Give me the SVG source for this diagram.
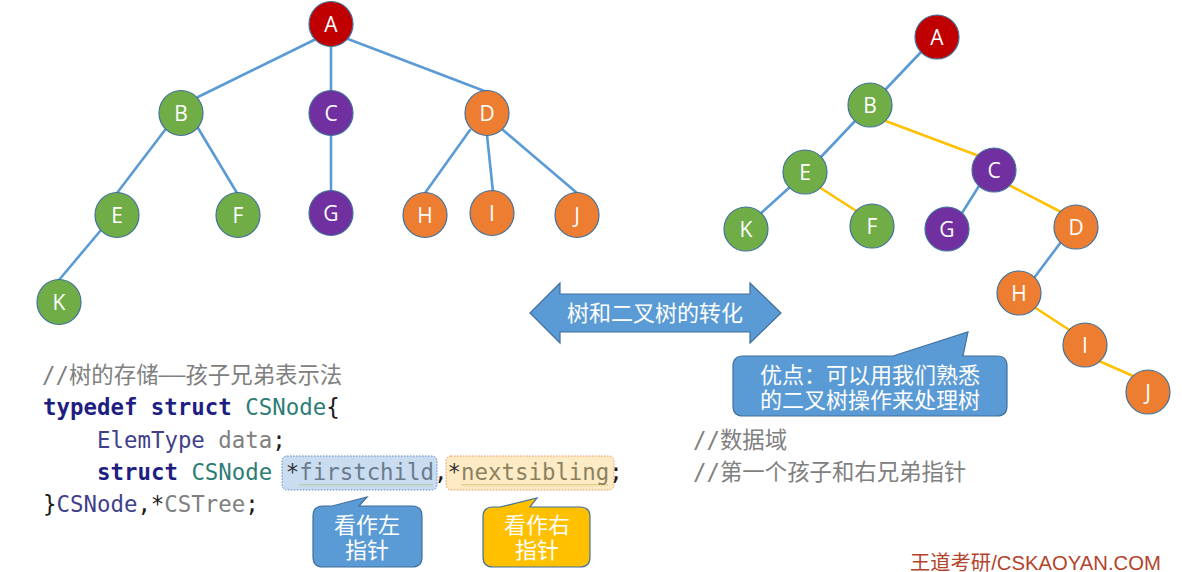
<svg xmlns="http://www.w3.org/2000/svg" width="1182" height="572" viewBox="0 0 1182 572">
<style>
.edge{stroke:#5B9BD5;stroke-width:2.6;fill:none;stroke-linecap:round}
.edgeY{stroke:#FFC000;stroke-width:2.6;fill:none;stroke-linecap:round}
.n{stroke:#41719C;stroke-width:1.2}
.red{fill:#C00000}.grn{fill:#70AD47}.pur{fill:#7030A0}.org{fill:#ED7D31}
.lbl{font-family:"Open Sans","Liberation Sans",sans-serif;font-size:21px;fill:#fff;text-anchor:middle}
.code{font-family:"DejaVu Sans Mono","Noto Sans CJK SC",monospace;font-size:22.4px;fill:#1a1a1a}
.kw{fill:#1E1E82;font-weight:bold}
.ty{fill:#2E7D76}
.et{fill:#3F3F8A}
.gr{fill:#808080}
.cm{font-family:"DejaVu Sans Mono","Noto Sans CJK SC",monospace;font-size:22.4px;fill:#808080}
.fc{fill:#6A7B8C}
.ns{fill:#8C8260}
.ast{fill:#333}
.ct{font-family:"Liberation Sans","Noto Sans CJK SC",sans-serif;font-size:22px;fill:#fff;text-anchor:middle}
.shape{stroke:#41719C;stroke-width:1.2}
</style>
<defs>
<pattern id="wavG" width="4" height="3" patternUnits="userSpaceOnUse"><path d="M0,1.5 Q1,0 2,1.5 T4,1.5" stroke="#9DC58C" stroke-width="0.9" fill="none"/></pattern>
<pattern id="wavY" width="4" height="3" patternUnits="userSpaceOnUse"><path d="M0,1.5 Q1,0 2,1.5 T4,1.5" stroke="#C9BA5A" stroke-width="0.9" fill="none"/></pattern>
</defs>
<rect width="1182" height="572" fill="#fff"/>

<g id="connectors">
<line class="edge" x1="314" y1="40" x2="198" y2="97"/>
<line class="edge" x1="331" y1="46" x2="331" y2="91"/>
<line class="edge" x1="348" y1="39" x2="487" y2="92"/>
<line class="edge" x1="165" y1="130" x2="117" y2="193"/>
<line class="edge" x1="198" y1="128" x2="237" y2="193"/>
<line class="edge" x1="331" y1="135" x2="331" y2="191"/>
<line class="edge" x1="470" y1="130" x2="425" y2="193"/>
<line class="edge" x1="487" y1="135" x2="493" y2="192"/>
<line class="edge" x1="503" y1="130" x2="577" y2="193"/>
<line class="edge" x1="101" y1="230" x2="59" y2="280"/>
<line class="edge" x1="922" y1="51" x2="884" y2="91"/>
<line class="edge" x1="856" y1="120" x2="820" y2="158"/>
<line class="edgeY" x1="883" y1="120" x2="979" y2="156"/>
<line class="edge" x1="790" y1="187" x2="760" y2="214"/>
<line class="edgeY" x1="819" y1="187" x2="858" y2="212"/>
<line class="edge" x1="979" y1="186" x2="962" y2="213"/>
<line class="edgeY" x1="1009" y1="185" x2="1061" y2="212"/>
<line class="edge" x1="1061" y1="242" x2="1034" y2="278"/>
<line class="edgeY" x1="1034" y1="307" x2="1071" y2="331"/>
<line class="edgeY" x1="1099" y1="361" x2="1133" y2="376"/>
</g>

<g id="A1"><ellipse class="n red" cx="331" cy="24" rx="22" ry="22.5"/><text class="lbl" x="331" y="31.5">A</text></g>
<g id="B1"><ellipse class="n grn" cx="181" cy="113" rx="22" ry="22.5"/><text class="lbl" x="181" y="120.5">B</text></g>
<g id="C1"><ellipse class="n pur" cx="331" cy="113" rx="22" ry="22.5"/><text class="lbl" x="331" y="120.5">C</text></g>
<g id="D1"><ellipse class="n org" cx="487" cy="113" rx="22" ry="22.5"/><text class="lbl" x="487" y="120.5">D</text></g>
<g id="E1"><ellipse class="n grn" cx="117" cy="215" rx="22" ry="22.5"/><text class="lbl" x="117" y="222.5">E</text></g>
<g id="F1"><ellipse class="n grn" cx="238" cy="215" rx="22" ry="22.5"/><text class="lbl" x="238" y="222.5">F</text></g>
<g id="G1"><ellipse class="n pur" cx="331" cy="213" rx="22" ry="22.5"/><text class="lbl" x="331" y="220.5">G</text></g>
<g id="H1"><ellipse class="n org" cx="425" cy="215" rx="22" ry="22.5"/><text class="lbl" x="425" y="222.5">H</text></g>
<g id="I1"><ellipse class="n org" cx="492" cy="213" rx="22" ry="22.5"/><text class="lbl" x="492" y="220.5">I</text></g>
<g id="J1"><ellipse class="n org" cx="577" cy="215" rx="22" ry="22.5"/><text class="lbl" x="577" y="222.5">J</text></g>
<g id="K1"><ellipse class="n grn" cx="59" cy="302" rx="22" ry="22.5"/><text class="lbl" x="59" y="309.5">K</text></g>

<g id="A2"><circle class="n red" cx="937" cy="37" r="22"/><text class="lbl" x="937" y="44.5">A</text></g>
<g id="B2"><circle class="n grn" cx="870" cy="105" r="22"/><text class="lbl" x="870" y="112.5">B</text></g>
<g id="E2"><circle class="n grn" cx="805" cy="172" r="22"/><text class="lbl" x="805" y="179.5">E</text></g>
<g id="C2"><circle class="n pur" cx="994" cy="170" r="22"/><text class="lbl" x="994" y="177.5">C</text></g>
<g id="K2"><circle class="n grn" cx="746" cy="229" r="22"/><text class="lbl" x="746" y="236.5">K</text></g>
<g id="F2"><circle class="n grn" cx="872" cy="226" r="22"/><text class="lbl" x="872" y="233.5">F</text></g>
<g id="G2"><circle class="n pur" cx="947" cy="229" r="22"/><text class="lbl" x="947" y="236.5">G</text></g>
<g id="D2"><circle class="n org" cx="1076" cy="227" r="22"/><text class="lbl" x="1076" y="234.5">D</text></g>
<g id="H2"><circle class="n org" cx="1019" cy="293" r="22"/><text class="lbl" x="1019" y="300.5">H</text></g>
<g id="I2"><circle class="n org" cx="1085" cy="345" r="22"/><text class="lbl" x="1085" y="352.5">I</text></g>
<g id="J2"><circle class="n org" cx="1148" cy="392" r="22"/><text class="lbl" x="1148" y="399.5">J</text></g>

<g id="convert-arrow">
<path class="shape" fill="#5B9BD5" d="M530,313 L560,283 L560,294 L750,294 L750,283 L781,313 L750,343 L750,332 L560,332 L560,343 Z"/>
<text class="ct" x="655" y="321" font-size="22.5">树和二叉树的转化</text>
</g>

<g id="advantage-callout">
<path class="shape" fill="#5B9BD5" d="M743,356 L893,356 L968,332 L963,356 L997,356 Q1007,356 1007,366 L1007,406 Q1007,416 997,416 L743,416 Q733,416 733,406 L733,366 Q733,356 743,356 Z"/>
<text class="ct" font-size="22.4"><tspan x="870" y="383">优点：可以用我们熟悉</tspan><tspan x="870" y="408">的二叉树操作来处理树</tspan></text>
</g>

<g id="code">
<rect x="282" y="456" width="155" height="34" rx="5" fill="#CADCF0" stroke="#5B8BC5" stroke-width="1" stroke-dasharray="1.5 1.5"/>
<rect x="446" y="456" width="168" height="34" rx="5" fill="#FDEBC6" stroke="#F0905A" stroke-width="1" stroke-dasharray="1.5 1.5"/>
<rect x="299" y="484" width="134" height="3" fill="url(#wavG)"/>
<rect x="461" y="484" width="147" height="3" fill="url(#wavY)"/>
<text class="cm" x="42" y="383">//树的存储——孩子兄弟表示法</text>
<text class="code" x="43" y="415"><tspan class="kw">typedef</tspan> <tspan class="kw">struct</tspan> <tspan class="ty">CSNode</tspan>{</text>
<text class="code" x="97" y="448"><tspan class="et">ElemType</tspan> <tspan class="gr">data</tspan>;</text>
<text class="code" x="97" y="480"><tspan class="kw">struct</tspan> <tspan class="ty">CSNode</tspan> <tspan class="ast">*</tspan><tspan class="fc">firstchild</tspan>,<tspan class="ast">*</tspan><tspan class="ns">nextsibling</tspan>;</text>
<text class="code" x="43" y="512">}<tspan class="et">CSNode</tspan>,*<tspan class="gr">CSTree</tspan>;</text>
<text class="cm" x="693" y="448">//数据域</text>
<text class="cm" x="693" y="480">//第一个孩子和右兄弟指针</text>
</g>

<g id="left-callout">
<path class="shape" fill="#5B9BD5" d="M323,506 L332,506 L367,497 L359,506 L412,506 Q422,506 422,516 L422,557 Q422,567 412,567 L323,567 Q313,567 313,557 L313,516 Q313,506 323,506 Z"/>
<text class="ct"><tspan x="367" y="533">看作左</tspan><tspan x="367" y="558">指针</tspan></text>
</g>

<g id="right-callout">
<path class="shape" fill="#FFC000" d="M493,507 L500,507 L537,498 L530,507 L580,507 Q590,507 590,517 L590,557 Q590,567 580,567 L493,567 Q483,567 483,557 L483,517 Q483,507 493,507 Z"/>
<text class="ct"><tspan x="537" y="533">看作右</tspan><tspan x="537" y="558">指针</tspan></text>
</g>

<text x="910" y="570" font-family="'Liberation Sans','Noto Sans CJK SC',sans-serif" font-size="20.3" fill="#B4432B">王道考研/CSKAOYAN.COM</text>
</svg>
